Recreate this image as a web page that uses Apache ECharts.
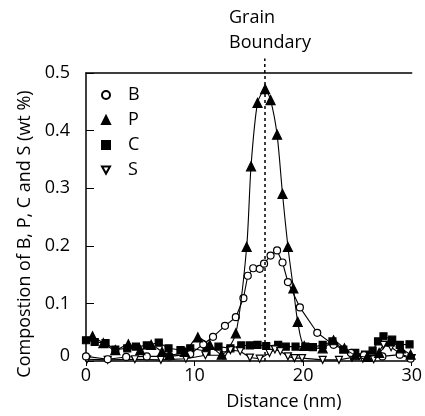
<!DOCTYPE html>
<html>
<head>
<meta charset="utf-8">
<script src="https://cdn.jsdelivr.net/npm/echarts@6/dist/echarts.min.js"></script>
<style>
  html, body { margin: 0; padding: 0; background: #fff; }
  #main { width: 425px; height: 416px; }
</style>
</head>
<body>
<div id="main"></div>
<script>
// distance (nm) / composition (wt %)
const xB = [0, 2.0, 3.7, 5.6, 7.7, 9.6, 10.8, 11.7, 12.8, 13.8, 14.5, 14.9, 15.4, 16.0, 16.4, 17.0, 17.6, 18.1, 18.6, 19.7, 21.3, 22.8, 24.4, 25.6, 27.3, 28.9, 29.9];
const yB = [0.008, 0.003, 0.007, 0.008, 0.008, 0.012, 0.029, 0.042, 0.061, 0.076, 0.109, 0.148, 0.161, 0.160, 0.169, 0.183, 0.192, 0.171, 0.137, 0.093, 0.049, 0.028, 0.014, 0.010, 0.008, 0.011, 0.004];

const xP = [0.6, 1.6, 2.7, 3.9, 5.0, 6.0, 7.0, 7.7, 9.1, 10.3, 11.4, 12.5, 13.8, 14.8, 15.2, 15.8, 16.5, 17.0, 17.6, 18.1, 18.6, 19.1, 19.5, 20.1, 21.8, 22.8, 23.8, 24.8, 25.9, 27.0, 28.0, 29.0, 29.9];
const yP = [0.043, 0.031, 0.019, 0.029, 0.019, 0.028, 0.016, 0.011, 0.016, 0.041, 0.028, 0.011, 0.048, 0.198, 0.338, 0.448, 0.472, 0.453, 0.393, 0.290, 0.198, 0.126, 0.068, 0.026, 0.022, 0.036, 0.022, 0.010, 0.007, 0.014, 0.034, 0.022, 0.011];

const xC = [0, 0.8, 1.8, 2.7, 3.8, 4.6, 5.6, 6.7, 7.6, 8.7, 9.6, 11.1, 12.2, 13.3, 14.3, 15.1, 15.8, 16.6, 17.7, 18.4, 19.3, 20.2, 20.9, 21.8, 22.7, 23.7, 24.8, 25.7, 26.4, 26.9, 27.4, 28.2, 28.9, 29.8];
const yC = [0.036, 0.033, 0.031, 0.020, 0.022, 0.025, 0.027, 0.032, 0.022, 0.019, 0.022, 0.017, 0.025, 0.022, 0.027, 0.027, 0.028, 0.026, 0.028, 0.025, 0.025, 0.025, 0.024, 0.028, 0.034, 0.020, 0.014, 0.011, 0.018, 0.034, 0.043, 0.037, 0.028, 0.029];

const xS = [0.1, 2.0, 4.5, 6.9, 9.2, 11.0, 12.7, 13.3, 14.2, 15.1, 16.0, 16.9, 17.4, 17.9, 18.6, 19.2, 19.9, 21.8, 23.3, 24.5, 25.5, 26.5, 27.4, 28.1, 29.0, 30.0];
const yS = [0.003, 0.002, 0.003, 0.002, 0.004, 0.010, 0.010, 0.019, 0.017, 0.006, 0.004, 0.014, 0.020, 0.017, 0.008, 0.005, 0.005, 0.002, 0.002, 0.006, 0.004, 0.003, 0.028, 0.024, 0.012, 0.005];

const grainBoundaryX = 16.47;
const grainBoundaryTop = 0.525;   // dashed line runs a little above the frame
const xTicks = [0, 10, 20, 30];
const yTicks = [0, 0.1, 0.2, 0.3, 0.4, 0.5];

const zip = (xs, ys) => xs.map((x, i) => [x, ys[i]]);

const font = 'Open Sans';
const fs = 18;
const chart = echarts.init(document.getElementById('main'));

const lineSeries = (name, xs, ys, symbol, size, filled, extra) => Object.assign({
  name: name,
  type: 'line',
  data: zip(xs, ys),
  symbol: symbol,
  symbolSize: size,
  showAllSymbol: true,
  clip: false,
  lineStyle: {color: '#000', width: 1.1},
  itemStyle: {
    color: filled ? '#000' : '#fff',
    borderColor: '#000',
    borderWidth: 1.2
  },
  emphasis: {disabled: true}
}, extra || {});

let option = {
  animation: false,
  grid: {left: 86, right: 10, top: 73, bottom: 53},
  legend: {
    orient: 'vertical',
    left: 96,
    top: 81,
    itemWidth: 8,
    itemHeight: 8,
    itemGap: 7,
    textStyle: {fontFamily: font, fontSize: fs, color: '#000', padding: [0, 0, 0, 13], lineHeight: 18},
    data: [
      {name: 'B', icon: 'circle'},
      {name: 'P', icon: 'triangle'},
      {name: 'C', icon: 'rect'},
      {name: 'S', icon: 'path://M0,0L10,0L5,9Z'}
    ]
  },
  xAxis: [
    {
      type: 'value',
      min: 0,
      max: 30,
      interval: 10,
      name: 'Distance (nm)',
      nameLocation: 'middle',
      nameGap: 32,
      nameTextStyle: {fontFamily: font, fontSize: fs, color: '#000', padding: [0, 0, 0, 70]},
      axisLine: {lineStyle: {color: '#000', width: 1.5}},
      axisTick: {inside: false, length: 5, lineStyle: {color: '#000'}},
      axisLabel: {
        fontFamily: font, fontSize: fs, color: '#000', margin: 6,
        formatter: v => xTicks.includes(v) ? String(v) : ''
      },
      splitLine: {show: false}
    },
    {
      type: 'value',
      position: 'top',
      min: 0,
      max: 30,
      axisLine: {show: true, lineStyle: {color: '#000', width: 1.5}},
      axisTick: {show: false},
      axisLabel: {show: false},
      splitLine: {show: false}
    }
  ],
  yAxis: {
    type: 'value',
    min: 0,
    max: 0.5,
    interval: 0.1,
    name: 'Compostion of B, P, C and S (wt %)',
    nameLocation: 'middle',
    nameGap: 50,
    nameTextStyle: {fontFamily: font, fontSize: fs, color: '#000', padding: [0, 34, 0, 0]},
    axisLine: {show: true, lineStyle: {color: '#000', width: 1.5}},
    axisTick: {inside: true, length: 8, lineStyle: {color: '#000'}},
    axisLabel: {
      fontFamily: font, fontSize: fs, color: '#000', margin: 16,
      formatter: v => {
        const t = yTicks.find(k => Math.abs(k - v) < 1e-9);
        if (t === undefined) return '';
        return t === 0 ? '{z|0}' : t.toFixed(1);
      },
      rich: {z: {fontFamily: font, fontSize: fs, color: '#000', padding: [0, 0, 10, 0]}}
    },
    splitLine: {show: false}
  },
  series: [
    lineSeries('C', xC, yC, 'rect', 7, true),
    lineSeries('S', xS, yS, 'path://M0,0L10,0L5,9Z', 7, false),
    lineSeries('B', xB, yB, 'circle', 7, false, {z: 3}),
    lineSeries('P', xP, yP, 'triangle', 9, true, {
      z: 4,
      smooth: 0.25,
      markLine: {
        silent: true,
        symbol: 'none',
        label: {show: false},
        lineStyle: {color: '#000', type: [3, 3], width: 1.5},
        data: [[{coord: [grainBoundaryX, 0]}, {coord: [grainBoundaryX, 0.5]}]]
      }
    })
  ]
};

chart.setOption(option);

// short piece of the dashed line above the frame, plus the label
const p0 = chart.convertToPixel({xAxisIndex: 0, yAxisIndex: 0}, [grainBoundaryX, 0.5]);
const p1 = chart.convertToPixel({xAxisIndex: 0, yAxisIndex: 0}, [grainBoundaryX, grainBoundaryTop]);
chart.setOption({
  graphic: [
    {
      type: 'line',
      shape: {x1: p0[0], y1: p0[1], x2: p1[0], y2: p1[1]},
      style: {stroke: '#000', lineWidth: 1.5, lineDash: [3, 3]},
      silent: true
    },
    {
      type: 'text',
      left: 229,
      top: 5,
      style: {text: 'Grain\nBoundary', font: fs + 'px "Open Sans"', fill: '#000', lineHeight: 25, align: 'left'}
    }
  ]
});
</script>
</body>
</html>
